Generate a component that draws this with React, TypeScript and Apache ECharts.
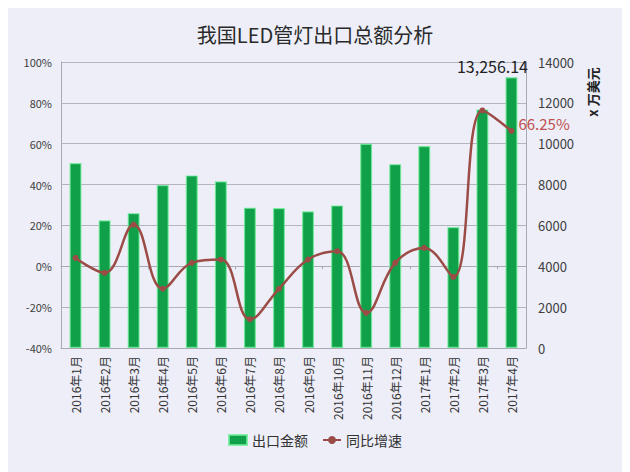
import React, { useEffect, useRef } from "react";
import * as echarts from "echarts";

const categories = [
  "2016年1月", "2016年2月", "2016年3月", "2016年4月", "2016年5月", "2016年6月",
  "2016年7月", "2016年8月", "2016年9月", "2016年10月", "2016年11月", "2016年12月",
  "2017年1月", "2017年2月", "2017年3月", "2017年4月",
];
// 出口金额 (万美元)
const exportValues = [
  9050, 6250, 6600, 7980, 8450, 8160, 6870, 6850, 6690, 6980, 10000, 9000, 9890, 5920, 11680, 13256.14,
];
// 同比增速 (%)
const growthValues = [
  4.1, -3.2, 20.4, -11, 1.7, 3.3, -26, -11, 3.3, 7.4, -22.8, 1.7, 9, -5.2, 76.3, 66.25,
];
const titleText = "我国LED管灯出口总额分析";
const rightAxisName = "x 万美元";

export default function App() {
  const ref = useRef<HTMLDivElement>(null);
  useEffect(() => {
    if (!ref.current) return;
    const chart = echarts.init(ref.current, undefined, { renderer: "svg" });
    const font = "'Noto Sans CJK SC', 'Noto Sans', sans-serif";
    const last = exportValues.length - 1;
    chart.setOption({
      animation: false,
      backgroundColor: "#edeef8",
      textStyle: { fontFamily: font },
      title: {
        text: titleText,
        left: "center",
        top: 19,
        textStyle: { fontSize: 20, fontWeight: "normal", color: "#2a2a2a", fontFamily: font },
      },
      legend: {
        bottom: 20,
        left: "center",
        itemGap: 14,
        textStyle: { fontSize: 14, color: "#333", fontFamily: font },
        data: [
          { name: "出口金额", icon: "rect", itemStyle: { color: "#10a04a" } },
          { name: "同比增速" },
        ],
        itemWidth: 18,
        itemHeight: 10,
      },
      grid: { left: 61, right: 104, top: 62, bottom: 124 },
      xAxis: [
        {
          type: "category",
          data: categories,
          position: "bottom",
          axisLine: { onZero: false, lineStyle: { color: "#a9a9b3" } },
          axisTick: { show: false },
          axisLabel: { rotate: 90, fontSize: 12, color: "#333", margin: 8, fontFamily: font },
        },
        {
          type: "category",
          data: categories,
          position: "bottom",
          axisLine: { onZero: true, lineStyle: { color: "#a9a9b3" } },
          axisTick: { show: true, length: 3, inside: false, lineStyle: { color: "#a9a9b3" } },
          axisLabel: { show: false },
        },
      ],
      yAxis: [
        {
          type: "value",
          min: -40,
          max: 100,
          interval: 20,
          axisLine: { show: true, lineStyle: { color: "#a9a9b3" } },
          axisTick: { show: false },
          axisLabel: { formatter: "{value}%", fontSize: 11, color: "#404040", margin: 9 },
          splitLine: { lineStyle: { color: "#b4b4be" } },
        },
        {
          type: "value",
          min: 0,
          max: 14000,
          interval: 2000,
          axisLine: { show: true, lineStyle: { color: "#a9a9b3" } },
          axisTick: { show: false },
          axisLabel: { fontSize: 13, color: "#404040", margin: 12, formatter: (v: number) => String(v) },
          splitLine: { show: false },
        },
      ],
      series: [
        {
          name: "出口金额",
          type: "bar",
          yAxisIndex: 1,
          barWidth: 12,
          itemStyle: { color: "#10a04a", borderColor: "rgba(110,235,150,0.8)", borderWidth: 1.2 },
          data: exportValues.map((v, i) =>
            i === last
              ? {
                  value: v,
                  label: {
                    show: true,
                    position: "top",
                    distance: 3,
                    offset: [-19, 0],
                    formatter: () => "13,256.14",
                    fontSize: 16,
                    color: "#222",
                  },
                }
              : v
          ),
        },
        {
          name: "同比增速",
          type: "line",
          yAxisIndex: 0,
          smooth: 0.4,
          symbol: "circle",
          symbolSize: 6,
          itemStyle: { color: "#9c4c47" },
          lineStyle: { color: "#9c4c47", width: 2.5 },
          data: growthValues.map((v, i) =>
            i === last
              ? {
                  value: v,
                  label: {
                    show: true,
                    position: "right",
                    distance: 4,
                    offset: [0, -7],
                    formatter: () => "66.25%",
                    fontSize: 15,
                    color: "#c0504d",
                  },
                }
              : v
          ),
        },
      ],
      graphic: [
        {
          type: "text",
          x: 592,
          y: 92,
          rotation: Math.PI / 2,
          style: {
            text: rightAxisName,
            font: `bold 13px ${font}`,
            fill: "#222",
            align: "center",
            verticalAlign: "middle",
          },
        },
      ],
    });
    return () => chart.dispose();
  }, []);
  return <div ref={ref} style={{ width: 630, height: 472, marginLeft: -8, marginTop: -8 }} />;
}
